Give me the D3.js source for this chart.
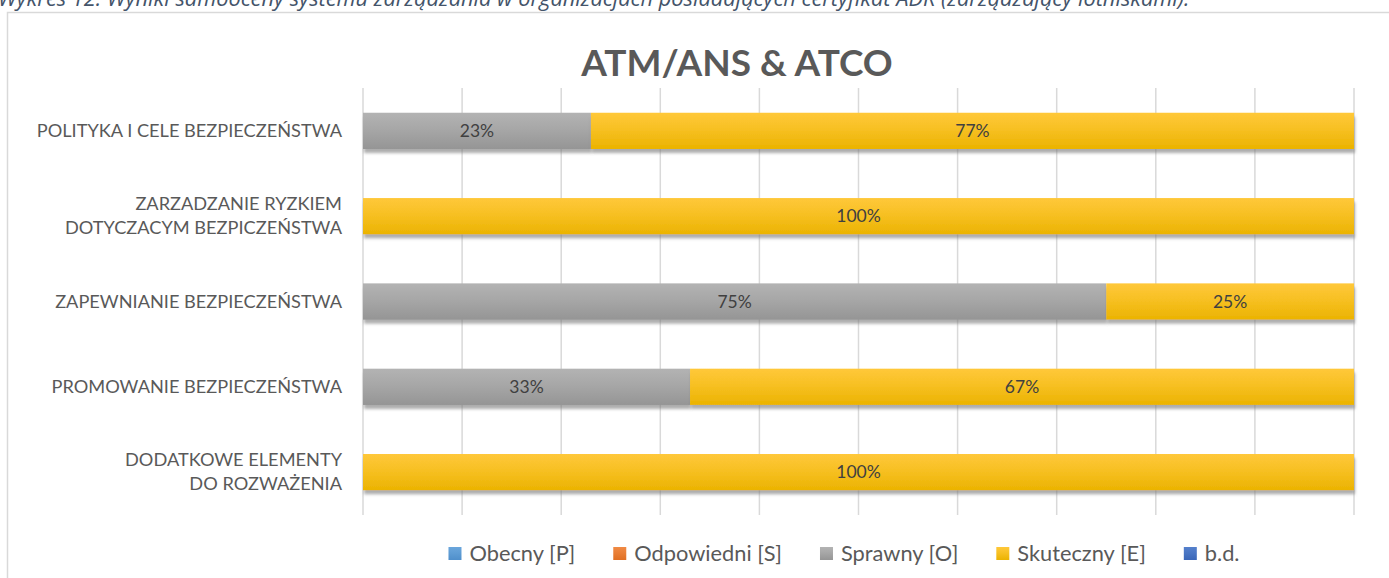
<!DOCTYPE html>
<html><head><meta charset="utf-8">
<script src="https://cdn.jsdelivr.net/npm/d3@7"></script>
<style>html,body{margin:0;padding:0;background:#fff;overflow:hidden}</style>
</head><body>
<svg id="chart" width="1389" height="578"></svg>
<script>
const categories = [
  ["POLITYKA I CELE BEZPIECZEŃSTWA"],
  ["ZARZADZANIE RYZKIEM", "DOTYCZACYM BEZPICZEŃSTWA"],
  ["ZAPEWNIANIE BEZPIECZEŃSTWA"],
  ["PROMOWANIE BEZPIECZEŃSTWA"],
  ["DODATKOWE ELEMENTY", "DO ROZWAŻENIA"]
];
const seriesNames = ["Obecny [P]", "Odpowiedni [S]", "Sprawny [O]", "Skuteczny [E]", "b.d."];
const obecny     = [0, 0, 0, 0, 0];
const odpowiedni = [0, 0, 0, 0, 0];
const sprawny    = [23, 0, 75, 33, 0];
const skuteczny  = [77, 100, 25, 67, 100];
const bd         = [0, 0, 0, 0, 0];
const xTicks = [0,10,20,30,40,50,60,70,80,90,100];
const title = "ATM/ANS & ATCO";
const caption = "Wykres 12. Wyniki samooceny systemu zarządzania w organizacjach posiadających certyfikat ADR (zarządzający lotniskami).";

const colors = ["#5b9bd5", "#ed7d31", "#a5a5a5", "#ffc000", "#4472c4"];
const seriesVals = [obecny, odpowiedni, sprawny, skuteczny, bd];

const svg = d3.select("#chart");
const font = "Lato, 'Open Sans', sans-serif";

const defs = svg.append("defs");
const grads = [
  ["#6aa6dc","#4f8fcb"],["#f08a44","#e06f22"],["#b3b3b3","#959595"],["#ffc83a","#ebb300"],["#5580cc","#3a66b8"]
];
grads.forEach((g,i)=>{
  const lg = defs.append("linearGradient").attr("id","g"+i).attr("x1",0).attr("y1",0).attr("x2",0).attr("y2",1);
  lg.append("stop").attr("offset","0%").attr("stop-color",g[0]);
  lg.append("stop").attr("offset","45%").attr("stop-color",d3.interpolateRgb(g[0],g[1])(0.4));
  lg.append("stop").attr("offset","100%").attr("stop-color",g[1]);
});
const f = defs.append("filter").attr("id","sh").attr("x","-5%").attr("y","-20%").attr("width","110%").attr("height","160%");
f.append("feDropShadow").attr("dx",1).attr("dy",4).attr("stdDeviation",1.6).attr("flood-color","#777").attr("flood-opacity",0.6);

// caption (cut off at top, as in the source)
svg.append("text").attr("x",-2).attr("y",6).attr("font-family","'Open Sans', sans-serif").attr("font-style","italic")
  .attr("font-size",21.8).attr("fill","#44546a").text(caption);

// chart border
svg.append("rect").attr("x",7.5).attr("y",12.5).attr("width",1400).attr("height",600)
  .attr("fill","none").attr("stroke","#d9d9d9").attr("stroke-width",1.5);

const x = d3.scaleLinear().domain([0,100]).range([363,1354]);
const y = d3.scaleBand().domain(d3.range(categories.length)).range([88,515]).paddingInner(0.575).paddingOuter(0.29);

// gridlines
svg.append("g").selectAll("line").data(xTicks).join("line")
  .attr("x1",d=>x(d)).attr("x2",d=>x(d)).attr("y1",88).attr("y2",515)
  .attr("stroke","#d9d9d9").attr("stroke-width",1.5);

// title
svg.append("text").attr("x",737).attr("y",76).attr("text-anchor","middle")
  .attr("font-family",font).attr("font-weight","bold").attr("font-size",37).attr("fill","#595959").text(title);

// stacked data
const stackData = categories.map((c,i)=>{ const o={i}; seriesNames.forEach((s,k)=>o[s]=seriesVals[k][i]); return o; });
const stacked = d3.stack().keys(seriesNames)(stackData);

const gBars = svg.append("g");
stacked.forEach((layer,k)=>{
  gBars.append("g").selectAll("rect").data(layer.filter(d=>d[1]-d[0]>0)).join("rect")
    .attr("x",d=>x(d[0])).attr("width",d=>x(d[1])-x(d[0]))
    .attr("y",d=>y(d.data.i)).attr("height",y.bandwidth())
    .attr("fill","url(#g"+k+")").attr("filter","url(#sh)");
});
stacked.forEach((layer,k)=>{
  gBars.append("g").selectAll("text").data(layer.filter(d=>d[1]-d[0]>0)).join("text")
    .attr("x",d=>(x(d[0])+x(d[1]))/2).attr("y",d=>y(d.data.i)+y.bandwidth()/2+6)
    .attr("text-anchor","middle").attr("font-family",font).attr("font-size",17.5).attr("fill","#404040")
    .text(d=>Math.round(d[1]-d[0])+"%");
});

// category labels
const gl = svg.append("g");
categories.forEach((lines,i)=>{
  const cy = y(i)+y.bandwidth()/2;
  const lh = 24;
  const t = gl.append("text").attr("text-anchor","end").attr("font-family",font).attr("font-size",18.2).attr("fill","#595959");
  lines.forEach((ln,j)=>{
    t.append("tspan").attr("x",342).attr("y",cy + 6 + (j-(lines.length-1)/2)*lh).text(ln);
  });
});

// legend
const lg = svg.append("g");
let items = [];
let cur = 0;
const gap = 38;
seriesNames.forEach((s,k)=>{
  const g = lg.append("g");
  g.append("rect").attr("x",0).attr("y",-14).attr("width",13).attr("height",13).attr("fill","url(#g"+k+")");
  const t = g.append("text").attr("x",21).attr("y",0).attr("font-family",font).attr("font-size",21.8).attr("fill","#595959").text(s);
  const w = 21 + t.node().getComputedTextLength();
  items.push({g,cur});
  cur += w + gap;
});
const total = cur - gap;
const startX = 844 - total/2;
items.forEach(it=>it.g.attr("transform",`translate(${startX+it.cur},561)`));
</script>
</body></html>
